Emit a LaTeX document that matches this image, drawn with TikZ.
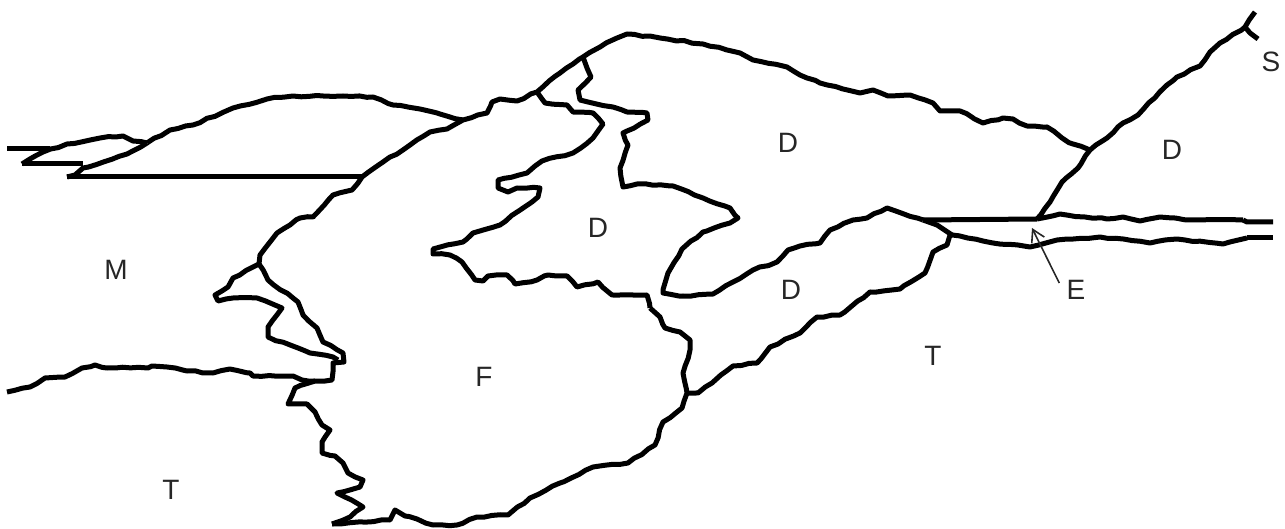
\documentclass[tikz,border=0pt]{standalone}
\usepackage{fontspec}
\setmainfont{Liberation Sans}
\usetikzlibrary{arrows.meta, decorations.pathmorphing}

\begin{document}
\begin{tikzpicture}[x=0.5pt, y=-0.5pt,
    contact/.style={black, line width=2.5pt, line join=round},
    rough/.style={contact, decorate, decoration={random steps, segment length=4pt, amplitude=0.4pt}},
    unit/.style={font=\fontsize{14}{16}\selectfont, text=black!85, inner sep=0pt},
    pointer/.style={black!85, line width=0.8pt, -{Straight Barb[length=6pt, width=7pt]}}]
    \useasboundingbox (0,0) rectangle (1285,529);
    % junctions
    \coordinate (J_1) at (147,143);
    \coordinate (J_2) at (362,177);
    \coordinate (J_3) at (259,264);
    \coordinate (J_4) at (583,57);
    \coordinate (J_5) at (537,92);
    \coordinate (J_6) at (1090,150);
    \coordinate (J_7) at (923,220);
    \coordinate (J_8) at (687,393);
    \coordinate (J_9) at (1037,219);
    \coordinate (J_10) at (332,524);
    \coordinate (J_11) at (1245,27);
    \coordinate (J_12) at (650,308);
    \coordinate (J_13) at (315,381);
    \coordinate (J_14) at (937,225);
    \coordinate (J_15) at (952,235);
    \coordinate (J_16) at (463,120);
    \coordinate (J_17) at (67,177);
    % klippe on the left
    \draw[contact] (7,149) -- (50,149);
    \draw[rough] (22,164) -- (43,152) -- (67,144) -- (100,138) -- (123,136) -- (133,141) -- (J_1);
    \draw[contact] (22,164) -- (83,164);
    \draw[rough] (J_1) -- (127,154) -- (83,168) -- (75,175) -- (J_17);
    \draw[contact] (J_17) -- (J_2);
    \draw[rough] (J_1) -- (170,130) -- (193,125) -- (233,108) -- (267,99) -- (293,96) -- (343,96) -- (373,97) -- (393,105) -- (420,109) -- (440,114) -- (J_16);
    % front of F
    \draw[rough] (J_3) -- (260,255) -- (277,233) -- (290,225) -- (300,218) -- (313,217) -- (333,195) -- (352,190) -- (J_2)
        -- (383,162) -- (410,145) -- (430,132) -- (447,129) -- (J_16) -- (487,113) -- (492,102) -- (500,99) -- (517,101) -- (J_5)
        -- (560,73) -- (J_4) -- (600,47) -- (617,38) -- (627,34) -- (660,38) -- (703,44) -- (740,53) -- (753,60)
        -- (787,67) -- (807,78) -- (820,83) -- (860,93) -- (873,90) -- (888,96) -- (910,95) -- (933,103) -- (940,111) -- (960,111) -- (983,123) -- (1003,118) -- (1013,119) -- (1027,126) -- (1047,127) -- (1062,138) -- (1073,144) -- (J_6);
    % north east
    \draw[rough] (J_6) -- (1107,138) -- (1123,123) -- (1138,115) -- (1167,85) -- (1177,77) -- (1200,66) -- (1210,52) -- (1220,43) -- (J_11) -- (1255,12);
    \draw[contact] (J_11) -- (1250,33) -- (1258,39);
    \draw[rough] (J_6) -- (1078,168) -- (1062,182) -- (1050,202) -- (J_9);
    % E
    \draw[contact] (J_7) -- (J_9);
    \draw[rough] (J_9) -- (1060,214) -- (1085,217) -- (1107,219) -- (1123,217) -- (1140,221) -- (1160,217) -- (1190,220) -- (1243,220);
    \draw[contact] (1243,220) -- (1247,222) -- (1273,222);
    \draw[contact] (J_7) -- (J_14) -- (J_15);
    \draw[rough] (J_15) -- (993,243) -- (1030,247) -- (1057,240) -- (1100,237) -- (1150,243) -- (1177,239) -- (1223,244) -- (1247,238);
    \draw[contact] (1247,238) -- (1273,238);
    % D fold
    \draw[rough] (J_4) -- (587,68) -- (591,77) -- (578,90) -- (580,100) -- (613,107) -- (627,112) -- (647,113) -- (648,120) -- (623,133) -- (628,145) -- (620,168) -- (623,187) -- (637,184)
        -- (673,186) -- (703,198) -- (730,208) -- (738,218) -- (730,223) -- (703,232) -- (682,249) -- (668,273) -- (663,293)
        -- (683,296) -- (713,294) -- (733,282) -- (753,270) -- (777,262) -- (788,250) -- (800,246) -- (820,243) -- (830,230) -- (853,220) -- (867,218) -- (887,208) -- (J_7);
    \draw[rough] (J_15) -- (950,235) -- (947,245) -- (933,252) -- (925,273) -- (900,289) -- (870,292) -- (840,315) -- (817,317) -- (800,333) -- (770,347) -- (757,363) -- (733,366) -- (712,383) -- (698,393) -- (J_8);
    \draw[rough] (J_5) -- (545,103) -- (567,105) -- (573,112) -- (593,113) -- (603,124) -- (593,138) -- (573,153) -- (542,161) -- (527,173) -- (498,180) -- (498,188) -- (508,192) -- (517,188) -- (540,188) -- (538,197) -- (500,225) -- (473,233) -- (463,242) -- (433,249) -- (433,254)
        -- (450,255) -- (462,262) -- (475,280) -- (483,281) -- (488,276) -- (507,275) -- (515,284) -- (537,280) -- (548,275) -- (567,276) -- (577,287) -- (598,282) -- (612,295) -- (647,295) -- (J_12);
    \draw[rough] (J_12) -- (660,317) -- (665,328) -- (680,332) -- (690,340) -- (690,350) -- (683,373) -- (J_8) -- (682,408) -- (663,422) -- (655,445) -- (628,463) -- (593,467) -- (560,483) -- (530,498) -- (508,515) -- (477,517) -- (457,525) -- (433,525) -- (417,519) -- (405,516) -- (395,510) -- (390,520) -- (J_10);
    % west side of F
    \draw[rough] (J_3) -- (268,280) -- (298,302) -- (303,315) -- (317,328) -- (323,342) -- (343,353) -- (344,362) -- (333,363) -- (332,380) -- (J_13) -- (295,388) -- (288,404) -- (307,404) -- (315,412) -- (322,425) -- (330,430) -- (322,442) -- (322,453) -- (335,456) -- (343,463) -- (348,473) -- (363,480) -- (360,487) -- (337,493) -- (363,507) -- (350,517) -- (J_10);
    \draw[rough] (J_3) -- (253,267) -- (233,278) -- (228,287) -- (215,295) -- (218,301) -- (233,298) -- (257,298) -- (282,308) -- (268,327) -- (268,337) -- (310,353) -- (333,357) -- (338,360);
    \draw[rough] (7,392) -- (30,387) -- (45,378) -- (65,377) -- (82,368) -- (95,365) -- (107,368) -- (148,368) -- (152,366) -- (167,367) -- (187,371) -- (213,373) -- (230,369) -- (250,373) -- (253,376) -- (293,376) -- (302,380) -- (J_13);
    % units
    \node[unit] (labelS) at (1271,62) {S};
    \node[unit] (labelDa) at (788,143) {D};
    \node[unit] (labelDb) at (1172,150) {D};
    \node[unit] (labelDc) at (598,228) {D};
    \node[unit] (labelDd) at (791,290) {D};
    \node[unit] (labelM) at (116,270) {M};
    \node[unit] (labelF) at (484,377) {F};
    \node[unit] (labelTa) at (933,356) {T};
    \node[unit] (labelTb) at (171,490) {T};
    \node[unit] (labelE) at (1076,290) {E};
    \coordinate (arrowtip) at (1032,228);
    \draw[pointer] ([shift={(-7,-7)}]labelE.west) -- (arrowtip);
\end{tikzpicture}
\end{document}
